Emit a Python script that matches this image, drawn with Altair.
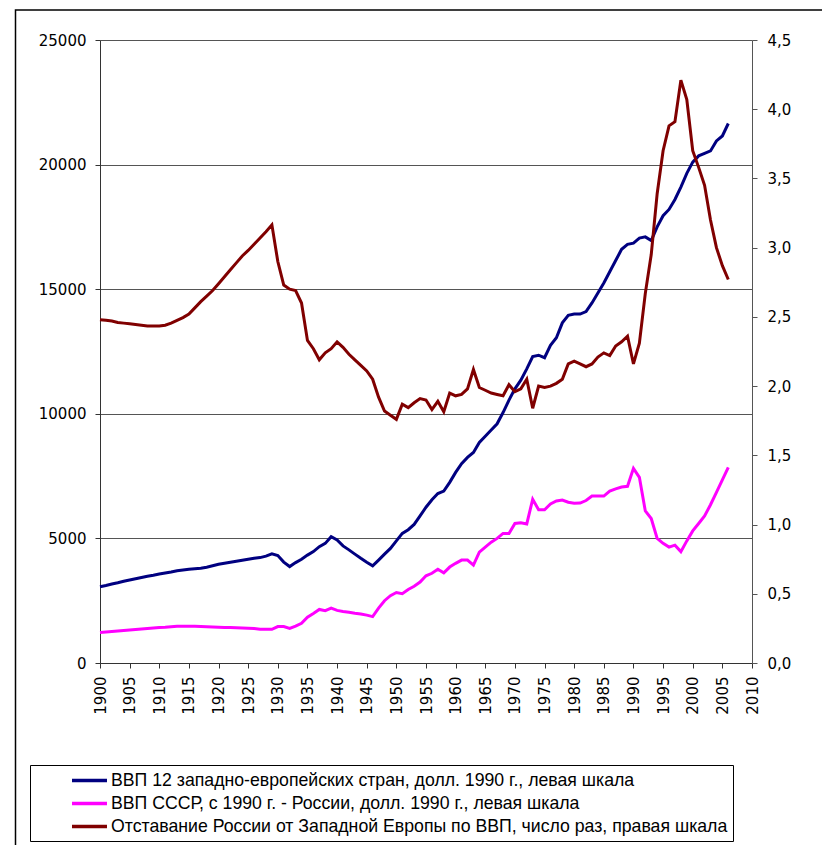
import altair as alt
import pandas as pd

years = list(range(1900, 2007))

# GDP per capita, 12 West European countries (1990 int. $), left scale
weurope = [
    3060, 3110, 3170, 3220, 3280, 3330, 3380, 3430, 3480, 3520,
    3570, 3610, 3650, 3700, 3730, 3760, 3780, 3800, 3840, 3900,
    3960, 4000, 4040, 4080, 4120, 4160, 4200, 4230, 4290, 4380,
    4310, 4050, 3870, 4030, 4160, 4330, 4470, 4670, 4800, 5070,
    4940, 4700, 4540, 4370, 4200, 4040, 3900, 4130, 4370, 4600,
    4900, 5200, 5350, 5560, 5900, 6250, 6550, 6800, 6900, 7250,
    7650, 8000, 8250, 8450, 8850, 9100, 9350, 9600, 10050, 10550,
    11000, 11350, 11800, 12300, 12350, 12250, 12750, 13050, 13650, 13950,
    14000, 14000, 14100, 14450, 14850, 15250, 15700, 16150, 16600, 16800,
    16850, 17050, 17100, 16950, 17500, 17950, 18200, 18600, 19100, 19650,
    20100, 20350, 20450, 20550, 20950, 21150, 21650,
]

# GDP per capita USSR, from 1990 Russia (1990 int. $), left scale
ussr = [
    1220, 1240, 1260, 1280, 1300, 1320, 1340, 1360, 1380, 1400,
    1420, 1430, 1450, 1470, 1470, 1470, 1470, 1460, 1450, 1440,
    1430, 1420, 1420, 1410, 1400, 1390, 1380, 1350, 1350, 1350,
    1460, 1460, 1390, 1480, 1590, 1840, 1990, 2150, 2100, 2200,
    2110, 2070, 2040, 2000, 1970, 1920, 1860, 2200, 2500, 2700,
    2830, 2780, 2950, 3080, 3250, 3500, 3600, 3760, 3620, 3850,
    4000, 4130, 4130, 3930, 4450, 4650, 4850, 5000, 5200, 5200,
    5600, 5630, 5580, 6570, 6150, 6150, 6380, 6500, 6540, 6450,
    6410, 6420, 6520, 6700, 6700, 6700, 6900, 6990, 7060, 7090,
    7810, 7450, 6100, 5800, 5000, 4800, 4650, 4730, 4470, 4900,
    5300, 5600, 5900, 6350, 6850, 7350, 7850,
]

# Lag of Russia behind Western Europe, times, right scale
ratio = [
    2.48, 2.475, 2.47, 2.46, 2.455, 2.45, 2.445, 2.44, 2.435, 2.435,
    2.435, 2.44, 2.455, 2.475, 2.495, 2.52, 2.565, 2.61, 2.65, 2.69,
    2.74, 2.79, 2.84, 2.89, 2.94, 2.98, 3.025, 3.07, 3.115, 3.165,
    2.90, 2.73, 2.70, 2.69, 2.60, 2.33, 2.27, 2.19, 2.24, 2.27,
    2.32, 2.28, 2.23, 2.19, 2.15, 2.11, 2.05, 1.92, 1.82, 1.79,
    1.76, 1.87, 1.845, 1.88, 1.91, 1.90, 1.83, 1.89, 1.815, 1.95,
    1.93, 1.94, 1.98, 2.12, 1.99, 1.97, 1.95, 1.94, 1.93, 2.01,
    1.96, 1.98, 2.05, 1.84, 2.0, 1.99, 2.0, 2.02, 2.05, 2.16,
    2.18, 2.16, 2.14, 2.16, 2.21, 2.24, 2.22, 2.29, 2.32, 2.36,
    2.16, 2.31, 2.67, 2.95, 3.39, 3.70, 3.88, 3.91, 4.21, 4.07,
    3.70, 3.58, 3.45, 3.20, 3.00, 2.87, 2.77,
]

series_names = [
    "ВВП 12 западно-европейских стран, долл. 1990 г., левая шкала",
    "ВВП СССР, с 1990 г. - России, долл. 1990 г., левая шкала",
    "Отставание России от Западной Европы по ВВП, число раз, правая шкала",
]
series_colors = ["#000080", "#FF00FF", "#800000"]

x_ticks = list(range(1900, 2011, 5))
left_ticks = list(range(0, 25001, 5000))
right_ticks = [0, 0.5, 1.0, 1.5, 2.0, 2.5, 3.0, 3.5, 4.0, 4.5]

left_df = pd.concat([
    pd.DataFrame({"year": years, "value": weurope, "series": series_names[0]}),
    pd.DataFrame({"year": years, "value": ussr, "series": series_names[1]}),
])
right_df = pd.DataFrame({"year": years, "ratio": ratio, "series": series_names[2]})

AXIS_FONT = "DejaVu Sans"
LEGEND_FONT = "Liberation Sans"

color = alt.Color(
    "series:N",
    scale=alt.Scale(domain=series_names, range=series_colors),
    legend=alt.Legend(
        title=None,
        orient="none",
        legendX=-70,
        legendY=725,
        direction="vertical",
        symbolType="M-2,0L2,0",
        symbolSize=306,
        symbolStrokeWidth=3.5,
        symbolOffset=44,
        labelOffset=11,
        labelFont=LEGEND_FONT,
        labelFontSize=17.7,
        labelColor="black",
        labelLimit=900,
        rowPadding=3,
        padding=5,
        strokeColor="black",
        fillColor="white",
    ),
)

x_enc = alt.X(
    "year:Q",
    scale=alt.Scale(domain=[1900, 2010], nice=False, zero=False),
    axis=alt.Axis(
        values=x_ticks, format="d", labelAngle=270, title=None,
        tickSize=5, labelPadding=8, grid=False,
        domainColor="#333", tickColor="#333",
        labelFont=AXIS_FONT, labelFontSize=15, labelColor="black",
        labelFlush=False, labelOverlap=False,
    ),
)

frame = alt.Chart(pd.DataFrame({"k": [0]})).mark_rect(
    filled=False, stroke="black", strokeWidth=1.5
).encode(
    x=alt.value(-84.5), x2=alt.value(900), y=alt.value(-30), y2=alt.value(900)
)

left = alt.Chart(left_df).mark_line(strokeWidth=3).encode(
    x=x_enc,
    y=alt.Y(
        "value:Q",
        scale=alt.Scale(domain=[0, 25000], nice=False),
        axis=alt.Axis(
            orient="left", values=left_ticks, format="d", title=None,
            grid=True, gridColor="#555", gridWidth=1,
            tickSize=5, labelPadding=9,
            domainColor="#333", tickColor="#333",
            labelFont=AXIS_FONT, labelFontSize=15, labelColor="black",
        ),
    ),
    color=color,
    detail="series:N",
)

right = alt.Chart(right_df).mark_line(strokeWidth=3).encode(
    x=x_enc,
    y=alt.Y(
        "ratio:Q",
        scale=alt.Scale(domain=[0, 4.5], nice=False),
        axis=alt.Axis(
            orient="right", values=right_ticks, title=None, grid=False,
            labelExpr="replace(format(datum.value, '.1f'), '.', ',')",
            tickSize=5, labelPadding=10,
            domainColor="#555", tickColor="#555",
            labelFont=AXIS_FONT, labelFontSize=15, labelColor="black",
        ),
    ),
    color=color,
)

chart = alt.layer(frame, left, right).resolve_scale(y="independent").properties(
    width=652,
    height=623,
    autosize=alt.AutoSizeParams(type="none"),
    padding={"left": 92, "top": 32, "right": 70, "bottom": 182},
    background="white",
).configure_view(strokeWidth=0)

chart.save("out.html", embed_options={"renderer": "svg", "actions": False})
